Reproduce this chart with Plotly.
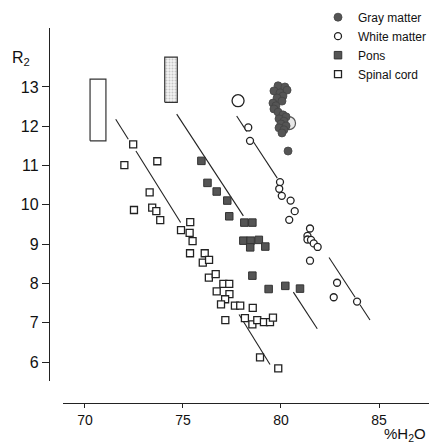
import plotly.graph_objects as go

# ---------------- data ----------------
gray_x = [79.85, 80.20, 80.31, 79.64, 79.95, 80.10, 79.80, 80.05, 79.59, 79.74, 79.64,
          79.85, 80.10, 80.26, 79.90, 80.15, 80.00, 80.26, 79.90, 80.15, 80.05, 80.36]
gray_y = [13.03, 13.00, 12.92, 12.90, 12.85, 12.77, 12.72, 12.64, 12.59, 12.52, 12.44,
          12.36, 12.29, 12.24, 12.19, 12.13, 12.06, 12.01, 11.96, 11.91, 11.83, 11.37]

white_x = [78.33, 78.42, 79.95, 79.91, 80.04, 80.49, 80.70, 80.42, 81.48, 81.35, 81.35,
           81.53, 81.67, 81.87, 81.48, 82.86, 82.69, 83.88]
white_y = [11.97, 11.63, 10.58, 10.41, 10.23, 10.11, 9.84, 9.62, 9.40, 9.21, 9.12,
           9.11, 9.02, 8.93, 8.58, 8.02, 7.65, 7.54]

pons_x = [75.94, 76.25, 76.72, 77.26, 77.36, 78.13, 78.54, 78.08, 78.45, 78.43, 78.87,
          79.20, 78.54, 79.37, 80.22, 80.97]
pons_y = [11.12, 10.56, 10.34, 10.11, 9.71, 9.55, 9.55, 9.09, 9.09, 8.92, 9.11,
          8.94, 8.20, 7.86, 7.94, 7.87]

spinal_x = [72.46, 72.01, 73.69, 73.30, 72.50, 73.43, 73.64, 73.84, 74.90, 75.37, 75.34,
            75.49, 75.36, 76.11, 76.01, 76.33, 76.32, 76.67, 77.06, 77.36, 76.72, 77.37,
            77.15, 76.94, 77.65, 77.92, 78.56, 77.16, 78.16, 78.54, 78.79, 79.13, 79.44,
            79.59, 78.93, 79.86]
spinal_y = [11.54, 11.01, 11.11, 10.32, 9.87, 9.93, 9.84, 9.61, 9.36, 9.56, 9.29,
            9.08, 8.77, 8.77, 8.53, 8.60, 8.15, 8.24, 7.99, 7.99, 7.80, 7.73,
            7.60, 7.47, 7.44, 7.44, 7.38, 7.07, 7.12, 6.96, 7.07, 7.02, 7.02,
            7.13, 6.12, 5.84]

# large reference circles
big_open_x, big_open_y = [77.81], [12.65]
big_speck_x, big_speck_y = [80.41], [12.08]

# reference bars (x0, x1, y0, y1)
bar1 = [70.26, 71.07, 11.63, 13.20]
bar2 = [74.07, 74.71, 12.61, 13.76]

# regression lines, drawn as segments (gaps around points)
spinal_line_x = [[71.57, 72.21], [72.60, 74.88], [77.86, 79.44]]
spinal_line_y = [[12.18, 11.67], [11.37, 9.55], [7.21, 5.94]]
pons_line_x = [[74.68, 78.08], [80.63, 81.85]]
pons_line_y = [[12.31, 9.72], [7.78, 6.85]]
white_line_x = [[77.74, 78.25], [78.55, 79.81], [82.45, 83.78], [84.03, 84.54]]
white_line_y = [[12.26, 11.87], [11.64, 10.68], [8.66, 7.65], [7.46, 7.07]]

x_ticks = [70, 75, 80, 85]
y_ticks = [6, 7, 8, 9, 10, 11, 12, 13]

# ---------------- figure ----------------
W, H = 429, 447
FONT = "Liberation Sans, Arial, sans-serif"

fig = go.Figure()

def rect_trace(b, pattern):
    x0, x1, y0, y1 = b
    kw = dict(x=[x0, x1, x1, x0, x0], y=[y0, y0, y1, y1, y0], mode="lines",
              line=dict(color="#333", width=1.2), fill="toself",
              showlegend=False, hoverinfo="skip")
    if pattern:
        kw["fillcolor"] = "#f2f2f2"
        kw["fillpattern"] = dict(shape=".", fgcolor="#999", size=3, solidity=0.35)
    else:
        kw["fillcolor"] = "white"
    return go.Scatter(**kw)

fig.add_trace(rect_trace(bar1, False))
fig.add_trace(rect_trace(bar2, True))

for xs_list, ys_list in [(spinal_line_x, spinal_line_y), (pons_line_x, pons_line_y),
                         (white_line_x, white_line_y)]:
    for xs, ys in zip(xs_list, ys_list):
        fig.add_trace(go.Scatter(x=xs, y=ys, mode="lines",
                                 line=dict(color="#222", width=1.1),
                                 showlegend=False, hoverinfo="skip"))

fig.add_trace(go.Scatter(x=big_open_x, y=big_open_y, mode="markers",
                         marker=dict(symbol="circle", size=12, color="white",
                                     line=dict(color="#222", width=1.3)),
                         showlegend=False))
fig.add_trace(go.Scatter(x=big_speck_x, y=big_speck_y, mode="markers",
                         marker=dict(symbol="circle", size=13, color="#e8e8e8",
                                     line=dict(color="#555", width=1.2)),
                         showlegend=False))

fig.add_trace(go.Scatter(x=spinal_x, y=spinal_y, mode="markers", name="Spinal cord",
                         legendrank=4,
                         marker=dict(symbol="square", size=7, color="white",
                                     line=dict(color="#222", width=1.3))))
fig.add_trace(go.Scatter(x=pons_x, y=pons_y, mode="markers", name="Pons",
                         legendrank=3,
                         marker=dict(symbol="square", size=7.5, color="#555",
                                     line=dict(color="#333", width=1))))
fig.add_trace(go.Scatter(x=white_x, y=white_y, mode="markers", name="White matter",
                         legendrank=2,
                         marker=dict(symbol="circle", size=7, color="white",
                                     line=dict(color="#222", width=1.3))))
fig.add_trace(go.Scatter(x=gray_x, y=gray_y, mode="markers", name="Gray matter",
                         legendrank=1,
                         marker=dict(symbol="circle", size=8, color="#555",
                                     line=dict(color="#444", width=0.8))))

# pixel helpers for layout only
px = lambda p: p / W
py = lambda p: 1 - p / H

fig.update_layout(
    width=W, height=H,
    margin=dict(l=0, r=0, t=0, b=0, autoexpand=False),
    paper_bgcolor="white", plot_bgcolor="white",
    font=dict(family=FONT, color="#111"),
    xaxis=dict(domain=[px(63), 1], range=[68.88, 87.55], anchor="free",
               position=py(403), showline=True, linecolor="#222", linewidth=1.3,
               showgrid=False, zeroline=False, tickvals=x_ticks, ticks="outside",
               ticklen=4, tickcolor="#222", tickfont=dict(size=14, family=FONT),
               tickangle=0, automargin=False),
    yaxis=dict(domain=[py(381), py(28)], range=[5.52, 14.50], anchor="free",
               position=px(49), showline=True, linecolor="#222", linewidth=1.3,
               showgrid=False, zeroline=False, tickvals=y_ticks, ticks="outside",
               ticklen=7, tickcolor="#222", tickangle=0,
               tickfont=dict(size=16, family=FONT),
               automargin=False),
    legend=dict(x=px(318), y=0.994, xanchor="left", yanchor="top",
                font=dict(size=12, family=FONT), bgcolor="rgba(0,0,0,0)",
                itemwidth=30, tracegroupgap=0),
    showlegend=True,
    annotations=[
        dict(text="R<sub>2</sub>", x=px(10), y=py(47), xref="paper", yref="paper",
             xanchor="left", yanchor="top", showarrow=False,
             font=dict(size=16, family=FONT)),
        dict(text="%H<sub>2</sub>O", x=px(428), y=py(446), xref="paper", yref="paper",
             xanchor="right", yanchor="bottom", showarrow=False,
             font=dict(size=15, family=FONT)),
    ],
)

fig.write_html("out.html", config={"displayModeBar": False},
               post_script="document.body.style.margin='0';document.body.style.padding='0';")
